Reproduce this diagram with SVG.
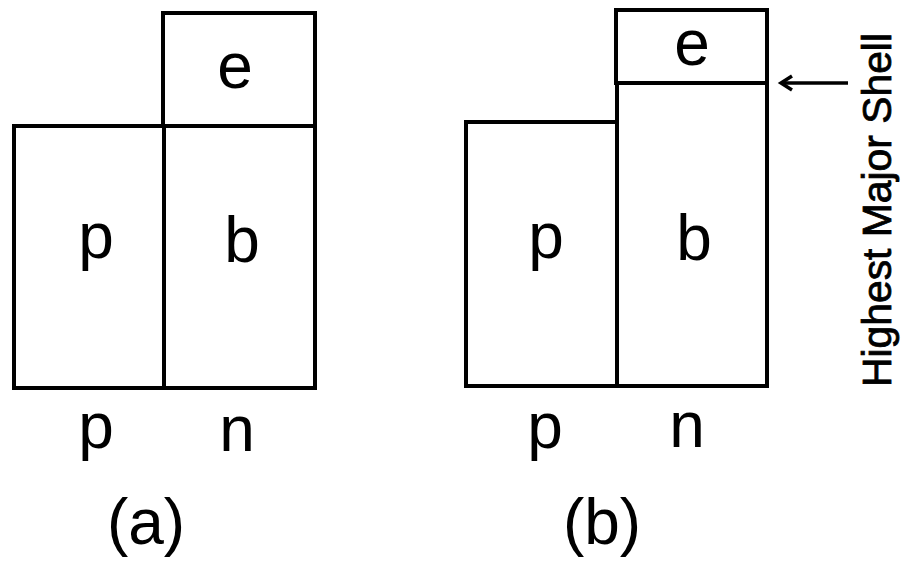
<svg xmlns="http://www.w3.org/2000/svg" width="902" height="566" viewBox="0 0 902 566">
<defs>
<style>
.box{fill:none;stroke:#000;stroke-width:4;stroke-linejoin:miter}
.lbl{font-family:"Liberation Sans",Arial,sans-serif;font-size:64px;fill:#000;text-anchor:middle}
.cap{font-family:"Liberation Sans",Arial,sans-serif;font-size:40px;fill:#000;stroke:#000;stroke-width:0.8}
.arr{fill:none;stroke:#000;stroke-width:3.5}
</style>
</defs>
<rect width="902" height="566" fill="#fff"/>
<g id="panel-a">
<g id="a-e"><rect class="box" x="163" y="13" width="152" height="113"/><text class="lbl" x="235" y="88">e</text></g>
<g id="a-p"><rect class="box" x="14" y="126" width="150" height="262"/><text class="lbl" x="96" y="258">p</text></g>
<g id="a-b"><rect class="box" x="164" y="126" width="151" height="262"/><text class="lbl" x="242" y="262">b</text></g>
<text class="lbl" x="96" y="448">p</text>
<text class="lbl" x="237" y="451">n</text>
<text class="lbl" x="146" y="544">(a)</text>
</g>
<g id="panel-b">
<g id="b-e"><rect class="box" x="616" y="10" width="151" height="73"/><text class="lbl" x="692" y="65">e</text></g>
<g id="b-p"><rect class="box" x="466" y="122" width="151" height="264"/><text class="lbl" x="546" y="258">p</text></g>
<g id="b-b"><rect class="box" x="617" y="83" width="150" height="303"/><text class="lbl" x="694" y="260">b</text></g>
<text class="lbl" x="545" y="448">p</text>
<text class="lbl" x="687" y="447">n</text>
<text class="lbl" x="602" y="544">(b)</text>
</g>
<g id="connectors">
<line class="arr" x1="848" y1="83" x2="782" y2="83"/>
<polyline class="arr" points="792,76 781,83 792,90"/>
</g>
<text class="cap" transform="translate(891,387) rotate(-90)" textLength="354" lengthAdjust="spacingAndGlyphs">Highest Major Shell</text>
</svg>
